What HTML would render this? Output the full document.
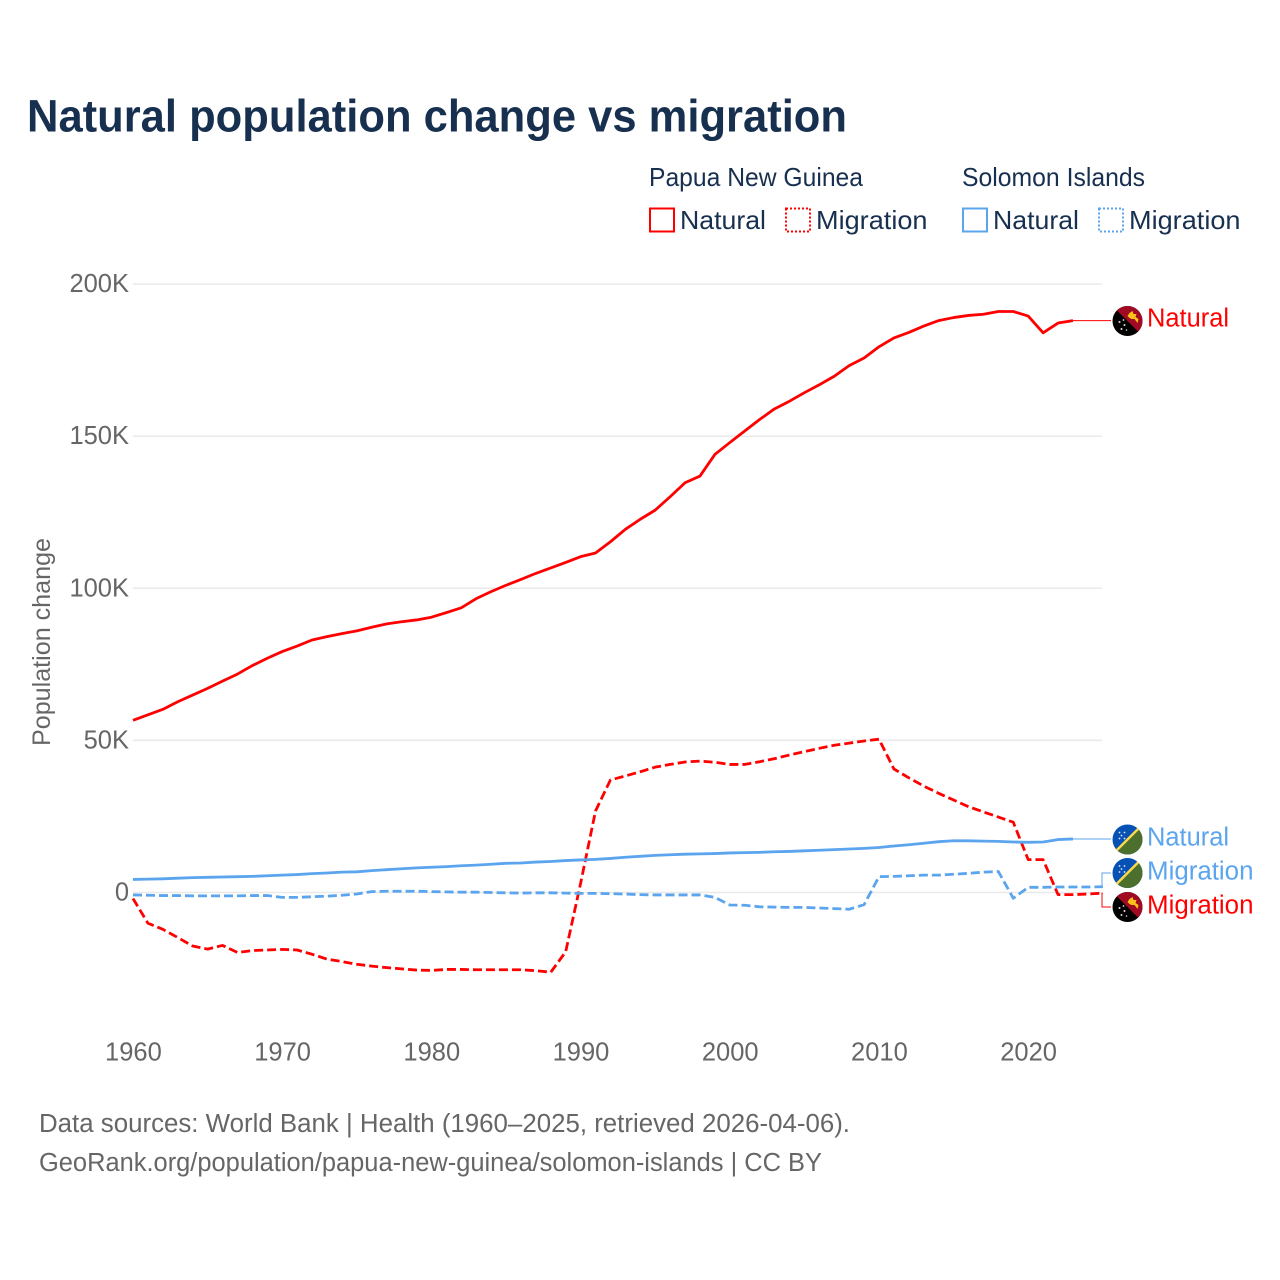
<!DOCTYPE html>
<html lang="en">
<head>
<meta charset="utf-8">
<title>Natural population change vs migration</title>
<style>
html,body{margin:0;padding:0;background:#fff;}
svg{display:block;font-family:"Liberation Sans",sans-serif;}
</style>
</head>
<body>
<svg id="chart" xmlns="http://www.w3.org/2000/svg" width="1280" height="1280" viewBox="0 0 1280 1280">
  <defs>
    <clipPath id="flag-clip"><circle cx="0" cy="0" r="15"/></clipPath>
  </defs>
  <rect x="0" y="0" width="1280" height="1280" fill="#fff"/>
  <text x="27" y="131.5" font-size="45" font-weight="700" fill="#18304f" textLength="820" lengthAdjust="spacingAndGlyphs">Natural population change vs migration</text>

  <g font-size="26" fill="#18304f">
    <text x="649" y="186" textLength="214" lengthAdjust="spacingAndGlyphs">Papua New Guinea</text>
    <text x="962" y="186" textLength="183" lengthAdjust="spacingAndGlyphs">Solomon Islands</text>
    <rect x="650" y="208.5" width="24" height="23" fill="#fff" stroke="#ff0000" stroke-width="2"/>
    <text x="680" y="229" textLength="86" lengthAdjust="spacingAndGlyphs">Natural</text>
    <rect x="786" y="208.5" width="24" height="23" fill="#fff" stroke="#ff0000" stroke-width="2" stroke-dasharray="2 2"/>
    <text x="816" y="229" textLength="111.5" lengthAdjust="spacingAndGlyphs">Migration</text>
    <rect x="963" y="208.5" width="24" height="23" fill="#fff" stroke="#5ba4ee" stroke-width="2"/>
    <text x="993" y="229" textLength="86" lengthAdjust="spacingAndGlyphs">Natural</text>
    <rect x="1099" y="208.5" width="24" height="23" fill="#fff" stroke="#5ba4ee" stroke-width="2" stroke-dasharray="2 2"/>
    <text x="1129" y="229" textLength="111.5" lengthAdjust="spacingAndGlyphs">Migration</text>
  </g>

  <g id="grid"></g>
  <g id="y-axis" font-size="25.5" fill="#666"></g>
  <g id="x-axis" font-size="25.5" fill="#666"></g>
  <text transform="translate(50,746) rotate(-90)" font-size="25" fill="#666" textLength="208" lengthAdjust="spacingAndGlyphs">Population change</text>
  <g id="connectors"></g>
  <g id="series"></g>

  <g transform="translate(1127.5,321)">
    <g clip-path="url(#flag-clip)">
      <rect x="-15" y="-15" width="30" height="30" fill="#000"/>
      <polygon points="-15,-15 15,-15 15,15" fill="#a00a22"/>
      <polygon points="0,-5 2,-8 5,-10 6,-7 9,-7 8,-4 11,-2 10,2 7,-2 4,-2 2,-3" fill="#fcc21a"/>
      <circle cx="-8" cy="1" r="1" fill="#ddd"/><circle cx="-4" cy="-1" r="0.9" fill="#ddd"/><circle cx="-3" cy="4" r="1" fill="#ddd"/><circle cx="-6" cy="8" r="1" fill="#ddd"/><circle cx="-1" cy="9" r="0.8" fill="#ddd"/>
    </g>
  </g>
  <g transform="translate(1127.5,839.5)">
    <g clip-path="url(#flag-clip)">
      <rect x="-15" y="-15" width="30" height="30" fill="#0751b5"/>
      <polygon points="15,-15 15,15 -15,15" fill="#4c6f2e"/>
      <line x1="-15" y1="15" x2="15" y2="-15" stroke="#fcd94a" stroke-width="2.4"/>
      <circle cx="-8" cy="-7" r="0.9" fill="#dfe8ff"/><circle cx="-3" cy="-7" r="0.9" fill="#dfe8ff"/><circle cx="-6" cy="-4" r="0.9" fill="#dfe8ff"/><circle cx="-8" cy="-1" r="0.9" fill="#dfe8ff"/><circle cx="-3" cy="-1" r="0.9" fill="#dfe8ff"/>
    </g>
  </g>
  <g transform="translate(1127.5,873)">
    <g clip-path="url(#flag-clip)">
      <rect x="-15" y="-15" width="30" height="30" fill="#0751b5"/>
      <polygon points="15,-15 15,15 -15,15" fill="#4c6f2e"/>
      <line x1="-15" y1="15" x2="15" y2="-15" stroke="#fcd94a" stroke-width="2.4"/>
      <circle cx="-8" cy="-7" r="0.9" fill="#dfe8ff"/><circle cx="-3" cy="-7" r="0.9" fill="#dfe8ff"/><circle cx="-6" cy="-4" r="0.9" fill="#dfe8ff"/><circle cx="-8" cy="-1" r="0.9" fill="#dfe8ff"/><circle cx="-3" cy="-1" r="0.9" fill="#dfe8ff"/>
    </g>
  </g>
  <g transform="translate(1127.5,907)">
    <g clip-path="url(#flag-clip)">
      <rect x="-15" y="-15" width="30" height="30" fill="#000"/>
      <polygon points="-15,-15 15,-15 15,15" fill="#a00a22"/>
      <polygon points="0,-5 2,-8 5,-10 6,-7 9,-7 8,-4 11,-2 10,2 7,-2 4,-2 2,-3" fill="#fcc21a"/>
      <circle cx="-8" cy="1" r="1" fill="#ddd"/><circle cx="-4" cy="-1" r="0.9" fill="#ddd"/><circle cx="-3" cy="4" r="1" fill="#ddd"/><circle cx="-6" cy="8" r="1" fill="#ddd"/><circle cx="-1" cy="9" r="0.8" fill="#ddd"/>
    </g>
  </g>

  <g font-size="25.5">
    <text x="1147" y="326.5" fill="#ff0000" textLength="82" lengthAdjust="spacingAndGlyphs">Natural</text>
    <text x="1147" y="845.5" fill="#5ba4ee" textLength="82" lengthAdjust="spacingAndGlyphs">Natural</text>
    <text x="1147" y="879.5" fill="#5ba4ee" textLength="106.5" lengthAdjust="spacingAndGlyphs">Migration</text>
    <text x="1147" y="913.5" fill="#ff0000" textLength="106.5" lengthAdjust="spacingAndGlyphs">Migration</text>
  </g>

  <g font-size="25.5" fill="#666">
    <text x="39" y="1132" textLength="811" lengthAdjust="spacingAndGlyphs">Data sources: World Bank | Health (1960–2025, retrieved 2026-04-06).</text>
    <text x="39" y="1171" textLength="783" lengthAdjust="spacingAndGlyphs">GeoRank.org/population/papua-new-guinea/solomon-islands | CC BY</text>
  </g>
</svg>
<script>
const startYear = 1960;
const yTickValues = [0, 50, 100, 150, 200];
const yTickLabels = ["0", "50K", "100K", "150K", "200K"];
const xTickYears = [1960, 1970, 1980, 1990, 2000, 2010, 2020];
const xTickLabels = ["1960", "1970", "1980", "1990", "2000", "2010", "2020"];

// values in thousands, one per year from 1960
const pngNatural = [56.6,58.4,60.2,62.7,64.9,67.1,69.5,71.8,74.6,77,
  79.2,81,83,84.1,85.1,86,87.2,88.3,89,89.6,
  90.5,92,93.6,96.6,98.9,101,102.9,104.9,106.7,108.5,
  110.4,111.6,115.3,119.4,122.7,125.7,130.1,134.7,136.9,144,
  147.9,151.7,155.5,159,161.5,164.3,166.9,169.7,173.2,175.7,
  179.4,182.3,184.1,186.2,188,189,189.7,190.1,191,191,
  189.5,184,187.2,188];
const pngMigration = [-2,-10.1,-12.1,-14.8,-17.6,-18.6,-17.4,-19.7,-19.1,-18.9,
  -18.7,-18.9,-20.3,-21.9,-22.7,-23.6,-24.2,-24.7,-25.1,-25.5,
  -25.6,-25.3,-25.3,-25.4,-25.4,-25.4,-25.4,-25.7,-26.2,-19.5,
  3,26.8,37,38.3,39.7,41.2,42.1,42.9,43.2,42.8,
  42.1,42.1,43,44,45.2,46.3,47.4,48.4,49.1,49.8,
  50.4,40.6,37.7,35,32.6,30.4,28.2,26.5,24.8,23.1,
  10.8,10.8,-0.7,-0.7,-0.5,-0.2];
const siNatural = [4.3,4.4,4.5,4.7,4.9,5,5.1,5.2,5.3,5.5,
  5.7,5.9,6.2,6.4,6.7,6.8,7.2,7.5,7.8,8.1,
  8.3,8.5,8.8,9,9.3,9.6,9.7,10,10.2,10.5,
  10.7,10.9,11.2,11.6,11.9,12.2,12.4,12.6,12.7,12.8,
  13,13.1,13.2,13.4,13.5,13.7,13.9,14.1,14.3,14.5,
  14.8,15.3,15.7,16.2,16.7,17,17,16.9,16.8,16.6,
  16.5,16.6,17.4,17.6];
const siMigration = [-0.8,-0.9,-1,-1,-1.1,-1.1,-1.1,-1.1,-1,-1,
  -1.6,-1.6,-1.4,-1.2,-0.9,-0.5,0.3,0.4,0.4,0.4,
  0.3,0.2,0.1,0.1,0,-0.1,-0.2,-0.1,-0.1,-0.2,
  -0.3,-0.3,-0.4,-0.5,-0.7,-0.8,-0.8,-0.8,-0.8,-1.6,
  -4.1,-4.2,-4.7,-4.8,-4.9,-4.9,-5.1,-5.3,-5.5,-4,
  5.2,5.3,5.5,5.7,5.7,6,6.3,6.7,6.9,-1.9,
  1.7,1.7,1.8,1.8,1.8,1.9];

const NS = "http://www.w3.org/2000/svg";
const RED = "#ff0000";
const BLUE = "#5ba4ee";
function xScale(year) { return 133 + (year - 1960) * 14.92; }
function yScale(v) { return 892.5 - v * 3.042; }
function make(tag, parent, attrs) {
  const el = document.createElementNS(NS, tag);
  for (const k in attrs) el.setAttribute(k, attrs[k]);
  parent.appendChild(el);
  return el;
}

const grid = document.getElementById("grid");
const yAxis = document.getElementById("y-axis");
yTickValues.forEach(function (v, i) {
  const line = make("line", grid, { x1: 133, x2: 1102, y1: yScale(v), y2: yScale(v), stroke: "#e9e9e9", "stroke-width": 1.5 });
  
  
  const t = make("text", yAxis, { x: 129, y: yScale(v) + 8, "text-anchor": "end" });
  
  
  t.textContent = yTickLabels[i];
});

const xAxis = document.getElementById("x-axis");
xTickYears.forEach(function (yr, i) {
  const t = make("text", xAxis, { x: xScale(yr) + 0.4, y: 1060.5, "text-anchor": "middle" });
  
  
  t.textContent = xTickLabels[i];
});

function linePoints(values) {
  return values.map(function (v, i) {
    return xScale(startYear + i).toFixed(2) + "," + yScale(v).toFixed(2);
  }).join(" ");
}
const seriesGroup = document.getElementById("series");

const s1 = make("polyline", seriesGroup, { points: linePoints(pngNatural), fill: "none", stroke: RED, "stroke-width": 2.8, "stroke-linejoin": "round" });


const s2 = make("polyline", seriesGroup, { points: linePoints(pngMigration), fill: "none", stroke: RED, "stroke-width": 2.8, "stroke-dasharray": "9 4", "stroke-linejoin": "round" });


const s3 = make("polyline", seriesGroup, { points: linePoints(siNatural), fill: "none", stroke: BLUE, "stroke-width": 2.8, "stroke-linejoin": "round" });


const s4 = make("polyline", seriesGroup, { points: linePoints(siMigration), fill: "none", stroke: BLUE, "stroke-width": 2.8, "stroke-dasharray": "9 4", "stroke-linejoin": "round" });



const conn = document.getElementById("connectors");
function straightConnector(values) {
  const endX = xScale(startYear + values.length - 1);
  const endY = yScale(values[values.length - 1]);
  return "M" + endX + "," + endY + "H1111";
}
function elbowConnector(values, targetY) {
  const endX = xScale(startYear + values.length - 1);
  const endY = yScale(values[values.length - 1]);
  return "M" + endX + "," + endY + "H1102V" + targetY + "H1111";
}
const c1 = make("path", conn, { d: straightConnector(pngNatural), fill: "none", stroke: RED, "stroke-width": 1 });


const c2 = make("path", conn, { d: straightConnector(siNatural), fill: "none", stroke: BLUE, "stroke-width": 1 });


const c3 = make("path", conn, { d: elbowConnector(siMigration, 873), fill: "none", stroke: BLUE, "stroke-width": 1 });


const c4 = make("path", conn, { d: elbowConnector(pngMigration, 907), fill: "none", stroke: RED, "stroke-width": 1 });


</script>
</body>
</html>
